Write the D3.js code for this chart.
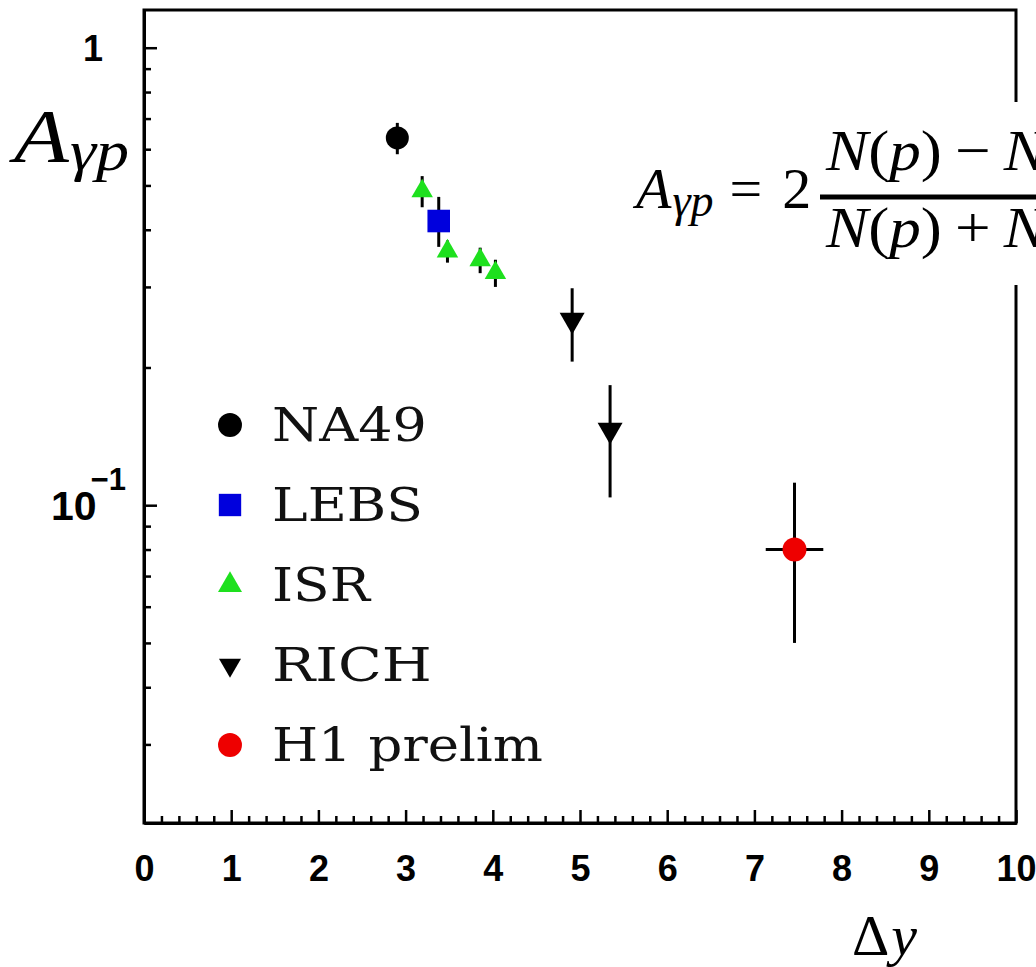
<!DOCTYPE html>
<html>
<head>
<meta charset="utf-8">
<script src="https://cdn.jsdelivr.net/npm/d3@7"></script>
<style>
  body { margin: 0; background: #fff; }
  svg { display: block; }
</style>
</head>
<body>
<div id="chart"></div>
<script>
// values
const na49X = [2.905];
const na49Y = [0.635];
const na49Err = [0.05];

const lebsX = [3.38];
const lebsY = [0.418];
const lebsErrUp = [0.054];
const lebsErrDn = [0.051];

const isrX = [3.19, 3.48, 3.855, 4.03];
const isrY = [0.486, 0.359, 0.3435, 0.322];
const isrErr = [0.038, 0.02, 0.022, 0.022];

const richX = [4.91, 5.345];
const richY = [0.254, 0.146];
const richErrUp = [0.044, 0.037];
const richErrDn = [0.048, 0.042];

const h1X = [7.46];
const h1Y = [0.080];
const h1ErrUp = [0.032];
const h1ErrDn = [0.030];
const h1ErrX = [0.33];

const xTicks = [0, 1, 2, 3, 4, 5, 6, 7, 8, 9, 10];
const xMinorTicks = d3.range(0, 50).map(i => i / 5).filter(v => v % 1 !== 0);
const yMajorTicks = [1, 0.1];
const yMinorTicks = [0.03, 0.04, 0.05, 0.06, 0.07, 0.08, 0.09, 0.2, 0.3, 0.4, 0.5, 0.6, 0.7, 0.8, 0.9];
const legendLabels = ["NA49", "LEBS", "ISR", "RICH", "H1 prelim"];
const legendWidths = [155, 151, 98, 160, 271];

const W = 1036, H = 967;
const plotLeft = 144, plotRight = 1016, plotTop = 10, plotBottom = 823;

const series = [
    { name: "NA49", x: na49X, y: na49Y, up: na49Err, dn: na49Err, shape: "circle", color: "#000", size: 415, legendSize: 450 },
    { name: "LEBS", x: lebsX, y: lebsY, up: lebsErrUp, dn: lebsErrDn, shape: "square", color: "#0000dd", size: 510, legendSize: 500 },
    { name: "ISR", x: isrX, y: isrY, up: isrErr, dn: isrErr, shape: "up", color: "#1ee01e", size: 200, legendSize: 250 },
    { name: "RICH", x: richX, y: richY, up: richErrUp, dn: richErrDn, shape: "down", color: "#000", size: 270, legendSize: 210 },
    { name: "H1 prelim", x: h1X, y: h1Y, up: h1ErrUp, dn: h1ErrDn, ex: h1ErrX, shape: "circle", color: "#ee0000", size: 450, legendSize: 450 }
];

const x = d3.scaleLinear().domain([0, 10]).range([plotLeft, plotRight]);
const y = d3.scaleLog().domain([0.0202, 1.209]).range([plotBottom, plotTop]);

const svg = d3.select("#chart").append("svg")
    .attr("width", W)
    .attr("height", H)
    .style("background", "#fff");

const symbolFor = s => ({ circle: d3.symbolCircle, square: d3.symbolSquare, up: d3.symbolTriangle, down: d3.symbolTriangle })[s];
const markerPath = (s, size) => d3.symbol().type(symbolFor(s)).size(size)();

// stretch a text sideways so that it spans the given width
const stretchTo = (sel, x0, y0, width) => {
    const w = sel.node().getComputedTextLength();
    sel.attr("x", 0).attr("y", 0)
        .attr("transform", `translate(${x0},${y0}) scale(${width / w},1)`);
};

// frame
svg.append("rect")
    .attr("x", plotLeft).attr("y", plotTop)
    .attr("width", plotRight - plotLeft).attr("height", plotBottom - plotTop)
    .attr("fill", "none")
    .attr("stroke", "#000")
    .attr("stroke-width", 3);

// x axis, ticks pointing inside
const xAxis = svg.append("g")
    .attr("transform", `translate(0,${plotBottom})`)
    .call(d3.axisBottom(x).tickValues(xTicks).tickSizeInner(-13).tickSizeOuter(0).tickPadding(32).tickFormat(d3.format("d")));
svg.append("g")
    .attr("transform", `translate(0,${plotBottom})`)
    .call(d3.axisBottom(x).tickValues(xMinorTicks).tickSizeInner(-7).tickSizeOuter(0).tickFormat(""));

// y axis
svg.append("g")
    .attr("transform", `translate(${plotLeft},0)`)
    .call(d3.axisLeft(y).tickValues(yMajorTicks).tickSizeInner(-13).tickSizeOuter(0).tickFormat(""));
svg.append("g")
    .attr("transform", `translate(${plotLeft},0)`)
    .call(d3.axisLeft(y).tickValues(yMinorTicks).tickSizeInner(-7).tickSizeOuter(0).tickFormat(""));

svg.selectAll(".domain").attr("stroke-width", 3);
svg.selectAll(".tick line").attr("stroke-width", 2.5);

xAxis.selectAll("text")
    .attr("font-family", "Liberation Sans, Arial, sans-serif")
    .attr("font-weight", "bold")
    .attr("font-size", 36)
    .attr("fill", "#000");

// y tick labels: 1 and 10^-1
svg.append("text")
    .attr("x", plotLeft - 41).attr("y", y(1) + 13)
    .attr("text-anchor", "end")
    .attr("font-family", "Liberation Sans, Arial, sans-serif")
    .attr("font-weight", "bold")
    .attr("font-size", 36)
    .text("1");
const tenLabel = svg.append("text")
    .attr("x", 51).attr("y", y(0.1) + 15)
    .attr("font-family", "Liberation Sans, Arial, sans-serif")
    .attr("font-weight", "bold")
    .attr("font-size", 41);
tenLabel.append("tspan").text("10");
tenLabel.append("tspan").attr("dx", -6).attr("dy", -30).attr("font-size", 31).text("\u22121");

// axis titles
const xTitle = svg.append("text")
    .attr("x", 852).attr("y", 955)
    .attr("font-family", "Liberation Serif, serif")
    .attr("font-size", 58);
xTitle.append("tspan").text("\u0394");
xTitle.append("tspan").attr("dx", 2).attr("font-style", "italic").text("y");

const yTitle = svg.append("text")
    .attr("font-family", "Liberation Serif, serif")
    .attr("font-style", "italic")
    .attr("font-size", 76);
yTitle.append("tspan").text("A");
yTitle.append("tspan").attr("dx", 1).attr("dy", 8).attr("font-size", 56).text("\u03b3p");
stretchTo(yTitle, 14, 162, 114);

// formula box, covers the right frame edge
svg.append("defs").append("clipPath").attr("id", "clipAll")
    .append("rect").attr("x", 0).attr("y", 0).attr("width", W).attr("height", H);
const formula = svg.append("g").attr("clip-path", "url(#clipAll)");
formula.append("rect")
    .attr("x", 625).attr("y", 102)
    .attr("width", W - 625).attr("height", 183)
    .attr("fill", "#fff");
const fFont = "Liberation Serif, serif";
const lhs = formula.append("text")
    .attr("x", 636).attr("y", 208)
    .attr("font-family", fFont)
    .attr("font-size", 58);
lhs.append("tspan").attr("font-style", "italic").text("A");
lhs.append("tspan").attr("font-style", "italic").attr("dx", 1).attr("dy", 8).attr("font-size", 46).text("\u03b3p");
lhs.append("tspan").attr("dx", 16).attr("dy", -8).text("=");
lhs.append("tspan").attr("dx", 20).text("2");
formula.append("line")
    .attr("x1", 820).attr("x2", 1100)
    .attr("y1", 197).attr("y2", 197)
    .attr("stroke", "#000")
    .attr("stroke-width", 5);
const fracPart = (yy, op) => {
    const t = formula.append("text")
        .attr("font-family", fFont)
        .attr("font-size", 58)
        .attr("transform", `translate(826,${yy}) scale(1.09,1)`);
    t.append("tspan").attr("font-style", "italic").text("N");
    t.append("tspan").text("(");
    t.append("tspan").attr("font-style", "italic").text("p");
    t.append("tspan").text(")");
    t.append("tspan").attr("dx", 12).text(op);
    t.append("tspan").attr("dx", 12).attr("font-style", "italic").text("N");
    t.append("tspan").text("(");
    t.append("tspan").attr("font-style", "italic").text("p\u0304");
    t.append("tspan").text(")");
};
fracPart(170, "\u2212");
fracPart(247, "+");

// data: error bars then markers
series.forEach(s => {
    const pts = s.x.map((v, i) => ({ x: v, y: s.y[i], up: s.up[i], dn: s.dn[i], ex: s.ex ? s.ex[i] : 0 }));
    const g = svg.append("g");
    g.selectAll("line.ey")
        .data(pts)
        .enter().append("line")
            .attr("class", "ey")
            .attr("x1", d => x(d.x)).attr("x2", d => x(d.x))
            .attr("y1", d => y(d.y + d.up)).attr("y2", d => y(d.y - d.dn))
            .attr("stroke", "#000")
            .attr("stroke-width", 3);
    g.selectAll("line.ex")
        .data(pts.filter(d => d.ex > 0))
        .enter().append("line")
            .attr("class", "ex")
            .attr("x1", d => x(d.x - d.ex)).attr("x2", d => x(d.x + d.ex))
            .attr("y1", d => y(d.y)).attr("y2", d => y(d.y))
            .attr("stroke", "#000")
            .attr("stroke-width", 3);
    g.selectAll("path")
        .data(pts)
        .enter().append("path")
            .attr("d", markerPath(s.shape, s.size))
            .attr("transform", d => `translate(${x(d.x)},${y(d.y)})${s.shape === "down" ? " rotate(180)" : ""}`)
            .attr("fill", s.color);
});

// legend
const legend = svg.append("g");
const rowY = i => 425 + i * 80;
series.forEach((s, i) => {
    legend.append("path")
        .attr("d", markerPath(s.shape, s.legendSize))
        .attr("transform", `translate(230,${rowY(i)})${s.shape === "down" ? " rotate(180)" : ""}`)
        .attr("fill", s.color);
    const t = legend.append("text")
        .attr("font-family", "DejaVu Serif, serif")
        .attr("font-size", 46)
        .attr("fill", "#111")
        .text(legendLabels[i]);
    stretchTo(t, 272, rowY(i) + 16, legendWidths[i]);
});
</script>
</body>
</html>
